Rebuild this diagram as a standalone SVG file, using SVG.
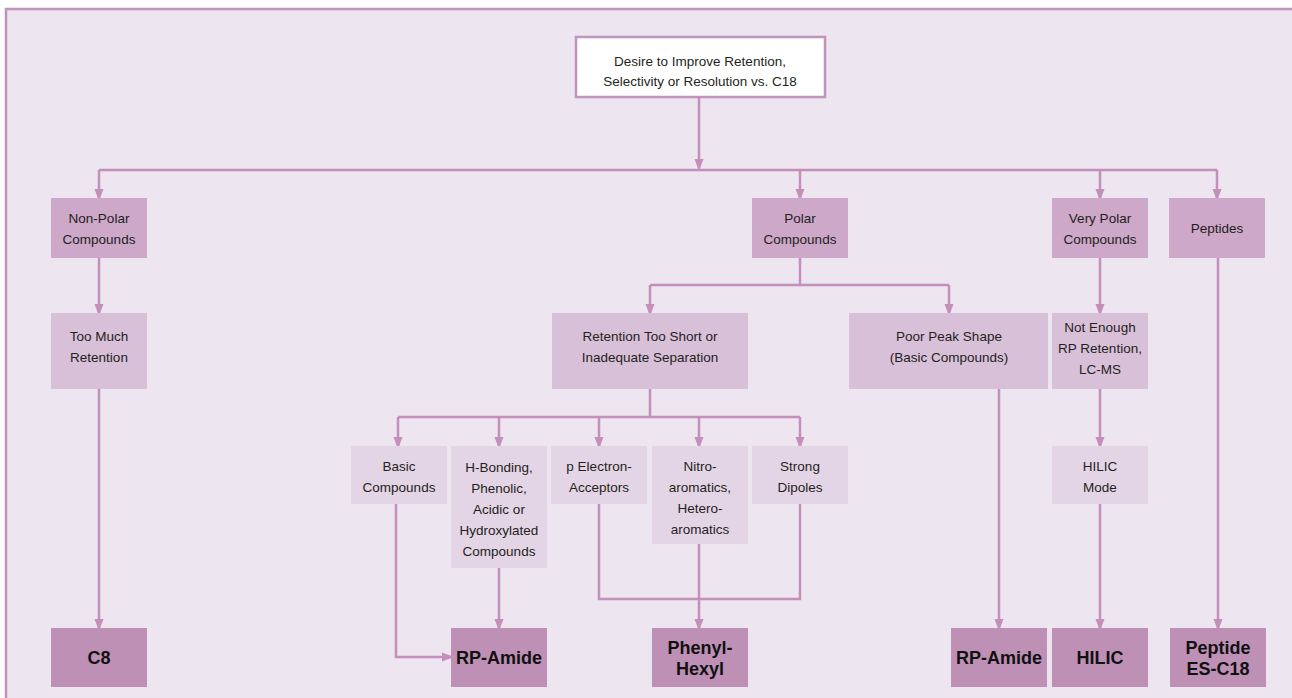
<svg xmlns="http://www.w3.org/2000/svg" width="1292" height="698" viewBox="0 0 1292 698">
<defs>
<style>
.t{font-family:"Liberation Sans",Arial,sans-serif;font-size:13.5px;fill:#231f20;text-anchor:middle}
.b{font-family:"Liberation Sans",Arial,sans-serif;font-size:18px;font-weight:bold;fill:#111;text-anchor:middle}
.l1{fill:#cda8c9}
.l2{fill:#d9c0d9}
.l3{fill:#e4d5e6}
.fin{fill:#bf90b5}
.c{fill:none;stroke:#c48fba;stroke-width:2.5}
</style>
<marker id="ah" markerWidth="12" markerHeight="16" refX="12" refY="6" orient="auto" markerUnits="userSpaceOnUse" viewBox="0 0 16 12">
<path d="M0,0 L16,6 L0,12 Z" fill="#c48fba"/>
</marker>
</defs>
<rect x="0" y="0" width="1292" height="698" fill="#ffffff"/>
<rect x="6" y="9" width="1300" height="700" fill="#ede5ef" stroke="#c394bb" stroke-width="2.5"/>

<g id="connectors">
<path class="c" d="M699,97 V168" marker-end="url(#ah)"/>
<path class="c" d="M99,170 H1217"/>
<path class="c" d="M99,170 V198" marker-end="url(#ah)"/>
<path class="c" d="M800,170 V198" marker-end="url(#ah)"/>
<path class="c" d="M1100,170 V198" marker-end="url(#ah)"/>
<path class="c" d="M1217,170 V198" marker-end="url(#ah)"/>
<path class="c" d="M99,258 V313" marker-end="url(#ah)"/>
<path class="c" d="M800,258 V285"/>
<path class="c" d="M650,285 H949"/>
<path class="c" d="M650,285 V313" marker-end="url(#ah)"/>
<path class="c" d="M949,285 V313" marker-end="url(#ah)"/>
<path class="c" d="M1100,258 V313" marker-end="url(#ah)"/>
<path class="c" d="M99,389 V628" marker-end="url(#ah)"/>
<path class="c" d="M650,389 V417"/>
<path class="c" d="M398,417 H800"/>
<path class="c" d="M398,417 V446" marker-end="url(#ah)"/>
<path class="c" d="M499,417 V446" marker-end="url(#ah)"/>
<path class="c" d="M599,417 V446" marker-end="url(#ah)"/>
<path class="c" d="M699,417 V446" marker-end="url(#ah)"/>
<path class="c" d="M800,417 V446" marker-end="url(#ah)"/>
<path class="c" d="M396,504 V657 H451" marker-end="url(#ah)"/>
<path class="c" d="M499,568 V628" marker-end="url(#ah)"/>
<path class="c" d="M599,504 V599 H800 V504"/>
<path class="c" d="M699,544 V628" marker-end="url(#ah)"/>
<path class="c" d="M999,389 V628" marker-end="url(#ah)"/>
<path class="c" d="M1100,389 V446" marker-end="url(#ah)"/>
<path class="c" d="M1100,504 V628" marker-end="url(#ah)"/>
<path class="c" d="M1218,258 V628" marker-end="url(#ah)"/>
</g>

<g id="root">
<rect x="576" y="37" width="249" height="60" fill="#ffffff" stroke="#c394bb" stroke-width="2.5"/>
<text class="t" x="700" y="66">Desire to Improve Retention,</text>
<text class="t" x="700" y="86">Selectivity or Resolution vs. C18</text>
</g>

<g id="nonpolar">
<rect class="l1" x="51" y="198" width="96" height="60"/>
<text class="t" x="99" y="223">Non-Polar</text>
<text class="t" x="99" y="244">Compounds</text>
</g>
<g id="polar">
<rect class="l1" x="752" y="198" width="96" height="60"/>
<text class="t" x="800" y="223">Polar</text>
<text class="t" x="800" y="244">Compounds</text>
</g>
<g id="verypolar">
<rect class="l1" x="1052" y="198" width="96" height="60"/>
<text class="t" x="1100" y="223">Very Polar</text>
<text class="t" x="1100" y="244">Compounds</text>
</g>
<g id="peptides">
<rect class="l1" x="1169" y="198" width="96" height="60"/>
<text class="t" x="1217" y="233">Peptides</text>
</g>

<g id="toomuch">
<rect class="l2" x="51" y="313" width="96" height="76"/>
<text class="t" x="99" y="341">Too Much</text>
<text class="t" x="99" y="362">Retention</text>
</g>
<g id="tooshort">
<rect class="l2" x="552" y="313" width="196" height="76"/>
<text class="t" x="650" y="341">Retention Too Short or</text>
<text class="t" x="650" y="362">Inadequate Separation</text>
</g>
<g id="poorpeak">
<rect class="l2" x="849" y="313" width="199" height="76"/>
<text class="t" x="949" y="341">Poor Peak Shape</text>
<text class="t" x="949" y="362">(Basic Compounds)</text>
</g>
<g id="notenough">
<rect class="l2" x="1052" y="313" width="96" height="76"/>
<text class="t" x="1100" y="332">Not Enough</text>
<text class="t" x="1100" y="353">RP Retention,</text>
<text class="t" x="1100" y="374">LC-MS</text>
</g>

<g id="basic">
<rect class="l3" x="351" y="446" width="96" height="58"/>
<text class="t" x="399" y="471">Basic</text>
<text class="t" x="399" y="492">Compounds</text>
</g>
<g id="hbond">
<rect class="l3" x="451" y="446" width="96" height="122"/>
<text class="t" x="499" y="472">H-Bonding,</text>
<text class="t" x="499" y="493">Phenolic,</text>
<text class="t" x="499" y="514">Acidic or</text>
<text class="t" x="499" y="535">Hydroxylated</text>
<text class="t" x="499" y="556">Compounds</text>
</g>
<g id="pelectron">
<rect class="l3" x="551" y="446" width="96" height="58"/>
<text class="t" x="599" y="471">p Electron-</text>
<text class="t" x="599" y="492">Acceptors</text>
</g>
<g id="nitro">
<rect class="l3" x="652" y="446" width="96" height="98"/>
<text class="t" x="700" y="471">Nitro-</text>
<text class="t" x="700" y="492">aromatics,</text>
<text class="t" x="700" y="513">Hetero-</text>
<text class="t" x="700" y="534">aromatics</text>
</g>
<g id="dipoles">
<rect class="l3" x="752" y="446" width="96" height="58"/>
<text class="t" x="800" y="471">Strong</text>
<text class="t" x="800" y="492">Dipoles</text>
</g>
<g id="hilicmode">
<rect class="l3" x="1052" y="446" width="96" height="58"/>
<text class="t" x="1100" y="471">HILIC</text>
<text class="t" x="1100" y="492">Mode</text>
</g>

<g id="c8">
<rect class="fin" x="51" y="628" width="96" height="59"/>
<text class="b" x="99" y="664">C8</text>
</g>
<g id="rpamide1">
<rect class="fin" x="451" y="628" width="96" height="59"/>
<text class="b" x="499" y="664">RP-Amide</text>
</g>
<g id="phenylhexyl">
<rect class="fin" x="652" y="628" width="96" height="59"/>
<text class="b" x="700" y="654">Phenyl-</text>
<text class="b" x="700" y="675">Hexyl</text>
</g>
<g id="rpamide2">
<rect class="fin" x="951" y="628" width="96" height="59"/>
<text class="b" x="999" y="664">RP-Amide</text>
</g>
<g id="hilic">
<rect class="fin" x="1052" y="628" width="96" height="59"/>
<text class="b" x="1100" y="664">HILIC</text>
</g>
<g id="peptidees">
<rect class="fin" x="1170" y="628" width="96" height="59"/>
<text class="b" x="1218" y="654">Peptide</text>
<text class="b" x="1218" y="675">ES-C18</text>
</g>
</svg>
